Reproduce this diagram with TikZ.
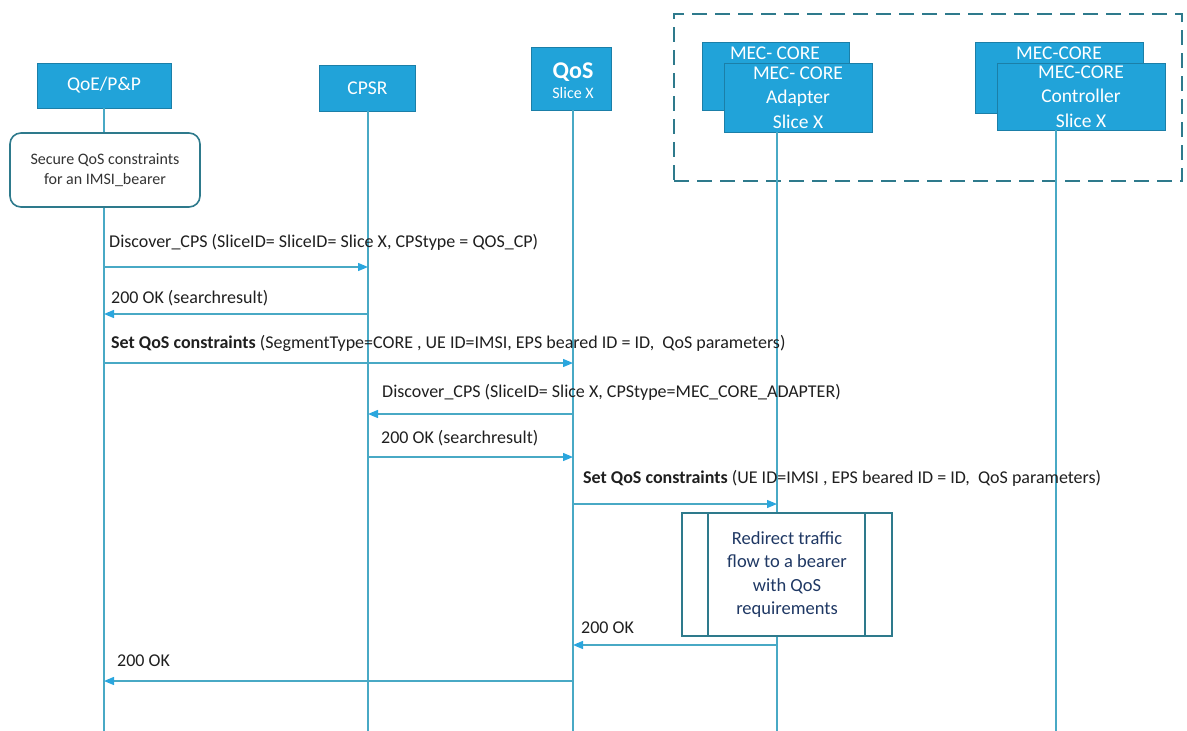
\documentclass[tikz,border=0pt]{standalone}
\usepackage{fontspec}
\setmainfont{Carlito}
\usetikzlibrary{arrows.meta}

\definecolor{boxfill}{HTML}{21A3D9}
\definecolor{boxedge}{HTML}{1B7FA8}
\definecolor{lifec}{HTML}{48A9C5}
\definecolor{tipc}{HTML}{2AA6DE}
\definecolor{framec}{HTML}{2E7A8C}
\definecolor{notetext}{HTML}{333333}
\definecolor{proctext}{HTML}{1F3864}

\begin{document}
\begin{tikzpicture}[x=1pt,y=-1pt,
  actor/.style={draw=boxedge, fill=boxfill, text=white, line width=0.9pt,
    inner sep=0pt, align=center, font=\fontsize{19.5}{24.5}\selectfont},
  actortext/.style={text=white, inner sep=0pt, font=\fontsize{19.5}{24.5}\selectfont},
  life/.style={draw=lifec, line width=1.3pt},
  msg/.style={draw=lifec, line width=1.3pt,
    -{Triangle[length=10pt,width=8pt,color=tipc]}},
  lbl/.style={anchor=base west, inner sep=0pt, text=black!88,
    font=\fontsize{18}{20}\selectfont},
  notebox/.style={draw=framec, line width=1.6pt, rounded corners=11pt, fill=white,
    align=center, text=notetext, inner sep=0pt, font=\fontsize{16}{20}\selectfont},
  procbox/.style={draw=framec, line width=1.6pt, fill=white, align=center,
    text=proctext, inner sep=0pt, font=\fontsize{18.5}{23.3}\selectfont},
  groupframe/.style={draw=framec, line width=2.4pt, dash pattern=on 15pt off 8pt}
]
\useasboundingbox (0,0) rectangle (1187,731);

% group of MEC components
\node[groupframe, minimum width=508, minimum height=167, inner sep=0pt] (grp) at (928,97.5) {};

% actors
\node[actor, minimum width=134, minimum height=45] (qoe) at (104,85.5) {QoE/P\&P};
\node[actor, minimum width=96, minimum height=46] (cpsr) at (367.5,88) {CPSR};
\node[actor, minimum width=80, minimum height=63] (qos) at (571,78.5) {};
\node[actortext, font=\bfseries\fontsize{24}{26}\selectfont] (qosT) at (573,72) {QoS};
\node[actortext, font=\fontsize{16}{18}\selectfont] (qosS) at (573,93) {Slice X};

\node[actor, minimum width=147, minimum height=68] (adB) at (775.5,76) {};
\node[actortext] (adBT) at (775,53) {MEC- CORE};
\node[actor, minimum width=148, minimum height=69] (adF) at (798,97.5) {MEC- CORE\\Adapter\\Slice X};

\node[actor, minimum width=168, minimum height=71] (ctB) at (1059,77.5) {};
\node[actortext] (ctBT) at (1059,53) {MEC-CORE};
\node[actor, minimum width=168, minimum height=67] (ctF) at (1081,96.5) {MEC-CORE\\Controller\\Slice X};

% note and process boxes
\node[notebox, minimum width=190, minimum height=74] (note) at (105,170) {Secure QoS constraints\\for an IMSI\_bearer};

% lifeline positions
\coordinate (xQoE) at (104,0);
\coordinate (xCPSR) at (368,0);
\coordinate (xQoS) at (573,0);
\coordinate (xAd) at (777,0);
\coordinate (xCt) at (1056,0);

\draw[life] (xQoE |- qoe.south) -- (xQoE |- note.north);
\draw[life] (xQoE |- note.south) -- (xQoE |- 0,731);
\draw[life] (xCPSR |- cpsr.south) -- (xCPSR |- 0,731);
\draw[life] (xQoS |- qos.south) -- (xQoS |- 0,731);
\draw[life] (xAd |- adF.south) -- (xAd |- 0,731);
\draw[life] (xCt |- ctF.south) -- (xCt |- 0,731);

\node[procbox, minimum width=210, minimum height=123] (proc) at (787,574.5) {Redirect traffic\\flow to a bearer\\with QoS\\requirements};
\draw[draw=framec, line width=1.6pt] (708,513) -- (708,636);
\draw[draw=framec, line width=1.6pt] (865,513) -- (865,636);

% messages
\node[lbl] (l1) at (109,247) {Discover\_CPS (SliceID= SliceID= Slice X, CPStype = QOS\_CP)};
\draw[msg] (xQoE |- 0,267) -- (xCPSR |- 0,267);

\node[lbl] (l2) at (111,303) {200 OK (searchresult)};
\draw[msg] (xCPSR |- 0,314) -- (xQoE |- 0,314);

\node[lbl] (l3) at (111,348) {\textbf{Set QoS constraints} (SegmentType=CORE , UE ID=IMSI, EPS beared ID = ID,\ \ QoS parameters)};
\draw[msg] (xQoE |- 0,363) -- (xQoS |- 0,363);

\node[lbl] (l4) at (382,397) {Discover\_CPS (SliceID= Slice X, CPStype=MEC\_CORE\_ADAPTER)};
\draw[msg] (xQoS |- 0,414) -- (xCPSR |- 0,414);

\node[lbl] (l5) at (381,443) {200 OK (searchresult)};
\draw[msg] (xCPSR |- 0,457) -- (xQoS |- 0,457);

\node[lbl] (l6) at (583,483) {\textbf{Set QoS constraints} (UE ID=IMSI , EPS beared ID = ID,\ \ QoS parameters)};
\draw[msg] (xQoS |- 0,504) -- (xAd |- 0,504);

\node[lbl] (l7) at (581,633) {200 OK};
\draw[msg] (xAd |- 0,645) -- (xQoS |- 0,645);

\node[lbl] (l8) at (117,666) {200 OK};
\draw[msg] (xQoS |- 0,681) -- (xQoE |- 0,681);
\end{tikzpicture}
\end{document}
